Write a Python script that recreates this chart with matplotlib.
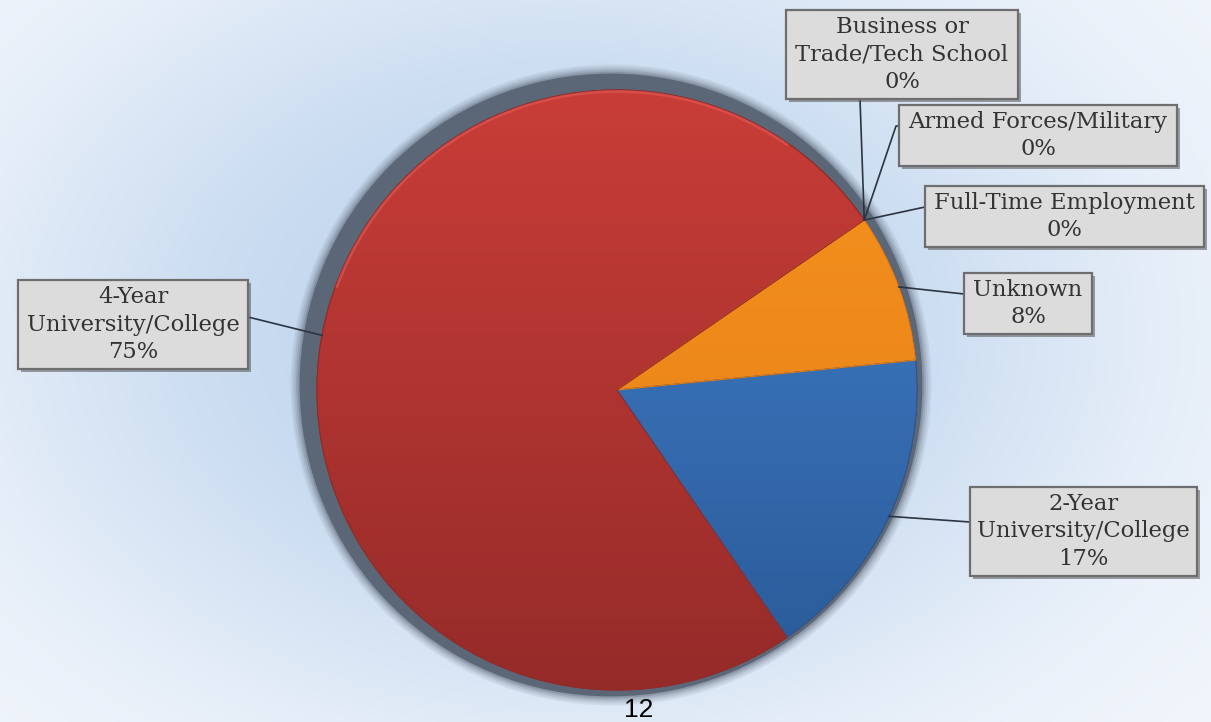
import numpy as np
import matplotlib.pyplot as plt
import matplotlib.patheffects as pe
from matplotlib.patches import Circle, Rectangle, Wedge, Arc
from matplotlib.colors import to_rgb

# chart data
categories = ['2-Year\nUniversity/College', 'Unknown', 'Full-Time Employment',
              'Armed Forces/Military', 'Business or\nTrade/Tech School',
              '4-Year\nUniversity/College']
percents = [17, 8, 0, 0, 0, 75]
slice_top = ['#4282cf', '#f7931f', '#9bbb59', '#8064a2', '#4bacc6', '#c93d38']
slice_bottom = ['#2a5996', '#e27c14', '#9bbb59', '#8064a2', '#4bacc6', '#952b29']

W, H = 1211, 722
CX, CY, R = 617, 390, 300   # pie centre / radius in pixels


def px(x, y):
    # pixel position -> data coords (pie radius = 1)
    return (x - CX) / R, (CY - y) / R


# label boxes (pixel x0, y0, x1, y1) and where the leader line meets them
boxes = [(970, 487, 1197, 576), (964, 273, 1092, 334), (925, 186, 1204, 247),
         (899, 105, 1177, 166), (786, 10, 1018, 99), (18, 280, 248, 369)]
line_ends = [(970, 522), (964, 294), (925, 207), (899, 126), (860, 99), (248, 317)]

fig = plt.figure(figsize=(W / 100, H / 100), dpi=100)
ax = fig.add_axes([0, 0, 1, 1])
xmin, xmax = -CX / R, (W - CX) / R
ymin, ymax = -(H - CY) / R, CY / R

# soft blue background
yy, xx = np.mgrid[0:H, 0:W]
dx = (xx - 560) / 620
dy = (yy - 330) / 440
wgt = np.exp(-1.4 * (dx ** 2 + dy ** 2) ** 1.5)[..., None]
light = np.array(to_rgb('#f2f6fc'))
blue = np.array(to_rgb('#c1d6ee'))
bg = light * (1 - wgt) + blue * wgt
ax.imshow(bg, extent=(xmin, xmax, ymin, ymax), zorder=0, aspect='auto')

# pie shadow
sx, sy = px(611, 385)
for k, a in zip(range(6), [0.1, 0.1, 0.14, 0.2, 0.3, 1.0]):
    ax.add_patch(Circle((sx, sy), 1.038 + (5 - k) * 0.006, fc='#5b6777',
                        ec='none', alpha=a, zorder=1))

wedges, _ = ax.pie(percents, colors=slice_top, startangle=-55.5,
                   counterclock=True, radius=1,
                   wedgeprops=dict(lw=0.8, edgecolor='#7a2a28'))

# vertical shading inside each slice
for w, p, ct, cb in zip(wedges, percents, slice_top, slice_bottom):
    w.set_zorder(2)
    if p == 0:
        continue
    t = np.linspace(0, 1, 256)[:, None, None]
    grad = np.array(to_rgb(ct)) * (1 - t) + np.array(to_rgb(cb)) * t
    im = ax.imshow(grad, extent=(-1, 1, -1, 1), zorder=3, aspect='auto')
    im.set_clip_path(w)
    ax.add_patch(Wedge((0, 0), 1, w.theta1, w.theta2, fc='none', ec=cb,
                       lw=0.8, zorder=4))

# light rim on the top of the big slice
ax.add_patch(Arc((0, 0), 1.99, 1.99, theta1=55, theta2=160, color='#e5605b',
                 lw=2, alpha=0.5, zorder=4))

shadow = [pe.SimplePatchShadow(offset=(2.5, -2.5), shadow_rgbFace='#555555',
                               alpha=0.55), pe.Normal()]

for w, lab, p, b, end in zip(wedges, categories, percents, boxes, line_ends):
    mid = np.deg2rad((w.theta1 + w.theta2) / 2)
    ax0, ay0 = np.cos(mid), np.sin(mid)
    ex, ey = px(*end)
    if lab.startswith('Armed'):
        kx, ky = px(896, 126)
        ax.plot([ax0, kx, ex], [ay0, ky, ey], color='#2b3440', lw=1.2, zorder=5)
    else:
        ax.plot([ax0, ex], [ay0, ey], color='#2b3440', lw=1.2, zorder=5)
    x0, y0 = px(b[0], b[3])
    x1, y1 = px(b[2], b[1])
    rect = Rectangle((x0, y0), x1 - x0, y1 - y0, fc='#dcdcdc', ec='#6e6e6e',
                     lw=1.6, zorder=6)
    rect.set_path_effects(shadow)
    ax.add_patch(rect)
    ax.text((x0 + x1) / 2, (y0 + y1) / 2, f'{lab}\n{p}%', ha='center',
            va='center', multialignment='center', fontsize=16.3,
            family='DejaVu Serif', color='#333333', linespacing=1.3, zorder=7)

tx, ty = px(639, 710)
ax.text(tx, ty, '12', ha='center', va='center', fontsize=19,
        family='Liberation Sans', color='black', zorder=7)

ax.set_xlim(xmin, xmax)
ax.set_ylim(ymin, ymax)
ax.set_aspect('equal')
ax.axis('off')

fig.savefig('out.png', dpi=100)
